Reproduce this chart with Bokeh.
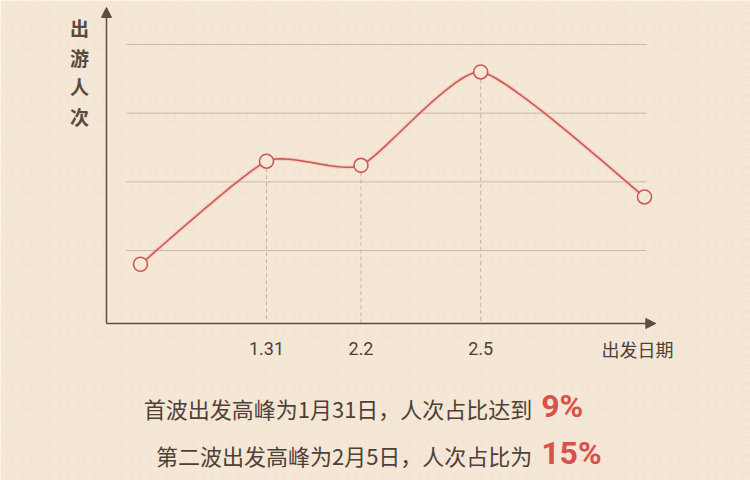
from bokeh.plotting import figure
from bokeh.models import Range1d, Arrow, NormalHead, BoxAnnotation
from bokeh.core.properties import value
from bokeh.embed import file_html
from bokeh.resources import INLINE
import numpy as np

# ---- data ----
x_vals = [0.0, 1.0, 1.75, 2.7, 4.0]          # date positions (axis units)
y_vals = [0.8, 2.3, 2.24, 3.6, 1.78]          # travel volume (grid units)
tick_idx = [1, 2, 3]
tick_labels = ["1.31", "2.2", "2.5"]
grid_levels = [1, 2, 3, 4]
y_title = "出游人次"
x_title = "出发日期"
notes = ["首波出发高峰为1月31日，人次占比达到", "第二波出发高峰为2月5日，人次占比为"]
shares = ["9%", "15%"]

W, H = 750, 480
BG = "#f5e7d5"
INK = "#4e4039"
AXIS = "#5d4c44"
RED = "#cc5a54"
PCT = "#d9514b"

SX, SY = 126.0, 68.67  # pixels per unit (for smoothing only)
X0, Y4 = 140.0, 44.0

p = figure(width=W, height=H, output_backend="svg", toolbar_location=None,
           x_range=Range1d(-X0 / SX, (W - X0) / SX),
           y_range=Range1d(4 - (H - Y4) / SY, 4 + Y4 / SY),
           min_border=0, min_border_left=0, min_border_right=0,
           min_border_top=0, min_border_bottom=0)
p.axis.visible = False
p.grid.visible = False
p.outline_line_color = None
p.background_fill_color = BG
p.border_fill_color = BG

# subtle ring texture
p.add_layout(BoxAnnotation(fill_alpha=0, line_alpha=0, hatch_pattern="ring",
                           hatch_color="#c3a584", hatch_alpha=0.18,
                           hatch_scale=18, hatch_weight=0.6, level="underlay"))

x_axis_y = -0.063
y_axis_x = -0.27

# horizontal grid lines
p.segment(x0=[-0.111] * len(grid_levels), x1=[4.016] * len(grid_levels),
          y0=grid_levels, y1=grid_levels, line_color="#c9b8a6", line_width=1)

# dashed drop lines
p.segment(x0=[x_vals[i] for i in tick_idx], x1=[x_vals[i] for i in tick_idx],
          y0=[y_vals[i] for i in tick_idx], y1=[x_axis_y] * len(tick_idx),
          line_color="#c5b3a2", line_width=1, line_dash="4 3")

# axes with arrows
p.add_layout(Arrow(end=NormalHead(size=10, fill_color=AXIS, line_color=AXIS),
                   x_start=y_axis_x, y_start=x_axis_y, x_end=y_axis_x, y_end=4.54,
                   line_color=AXIS, line_width=1.5))
p.add_layout(Arrow(end=NormalHead(size=10, fill_color=AXIS, line_color=AXIS),
                   x_start=y_axis_x, y_start=x_axis_y, x_end=4.09, y_end=x_axis_y,
                   line_color=AXIS, line_width=1.5))

# smooth curve (cardinal spline through the data points)
K = 0.28
P = np.column_stack([np.array(x_vals) * SX, np.array(y_vals) * SY])
n = len(P)
curve = []
for i in range(n - 1):
    p0 = P[i - 1] if i > 0 else P[i]
    p1, p2 = P[i], P[i + 1]
    p3 = P[i + 2] if i + 2 < n else P[i + 1]
    m1 = K * (p2 - p0)
    m2 = K * (p3 - p1)
    for t in np.linspace(0, 1, 30, endpoint=(i == n - 2)):
        h00 = 2 * t**3 - 3 * t**2 + 1
        h10 = t**3 - 2 * t**2 + t
        h01 = -2 * t**3 + 3 * t**2
        h11 = t**3 - t**2
        curve.append(h00 * p1 + h10 * m1 + h01 * p2 + h11 * m2)
curve = np.array(curve)
p.line(curve[:, 0] / SX, curve[:, 1] / SY, line_color="#f2b4a8", line_width=4, line_alpha=0.45)
p.line(curve[:, 0] / SX, curve[:, 1] / SY, line_color=RED, line_width=1.6)
p.scatter(x_vals, y_vals, size=14, fill_color=BG, line_color=RED, line_width=1.6)

# tick labels
p.text(x=[x_vals[i] for i in tick_idx], y=[-0.427] * len(tick_idx), text=tick_labels,
       text_align="center", text_baseline="middle", text_color=INK,
       text_font=value("Roboto"), text_font_size="18px")
p.text(x=[3.944], y=[-0.427], text=[x_title], text_align="center", text_baseline="middle",
       text_color=INK, text_font=value("Noto Sans CJK SC"), text_font_size="18px")

# y title (vertical, stacked)
p.text(x=[-0.484], y=[3.6], text=["\n".join(y_title)], text_align="center",
       text_baseline="middle", text_color="#574a43", text_font=value("Noto Sans CJK SC"),
       text_font_size="19px", text_line_height=1.1, text_font_style="bold")

# notes
note_y = [-1.30, -1.985]
p.text(x=[3.11] * 2, y=note_y, text=notes, text_align="right", text_baseline="middle",
       text_color=INK, text_font=value("Noto Sans CJK SC"), text_font_size="22px")
p.text(x=[3.18] * 2, y=[v + 0.03 for v in note_y], text=shares, text_align="left",
       text_baseline="middle", text_color=PCT,
       text_font=value("Roboto"), text_font_size="32px", text_font_style="bold")

open("out.html", "w").write(file_html(p, INLINE))
